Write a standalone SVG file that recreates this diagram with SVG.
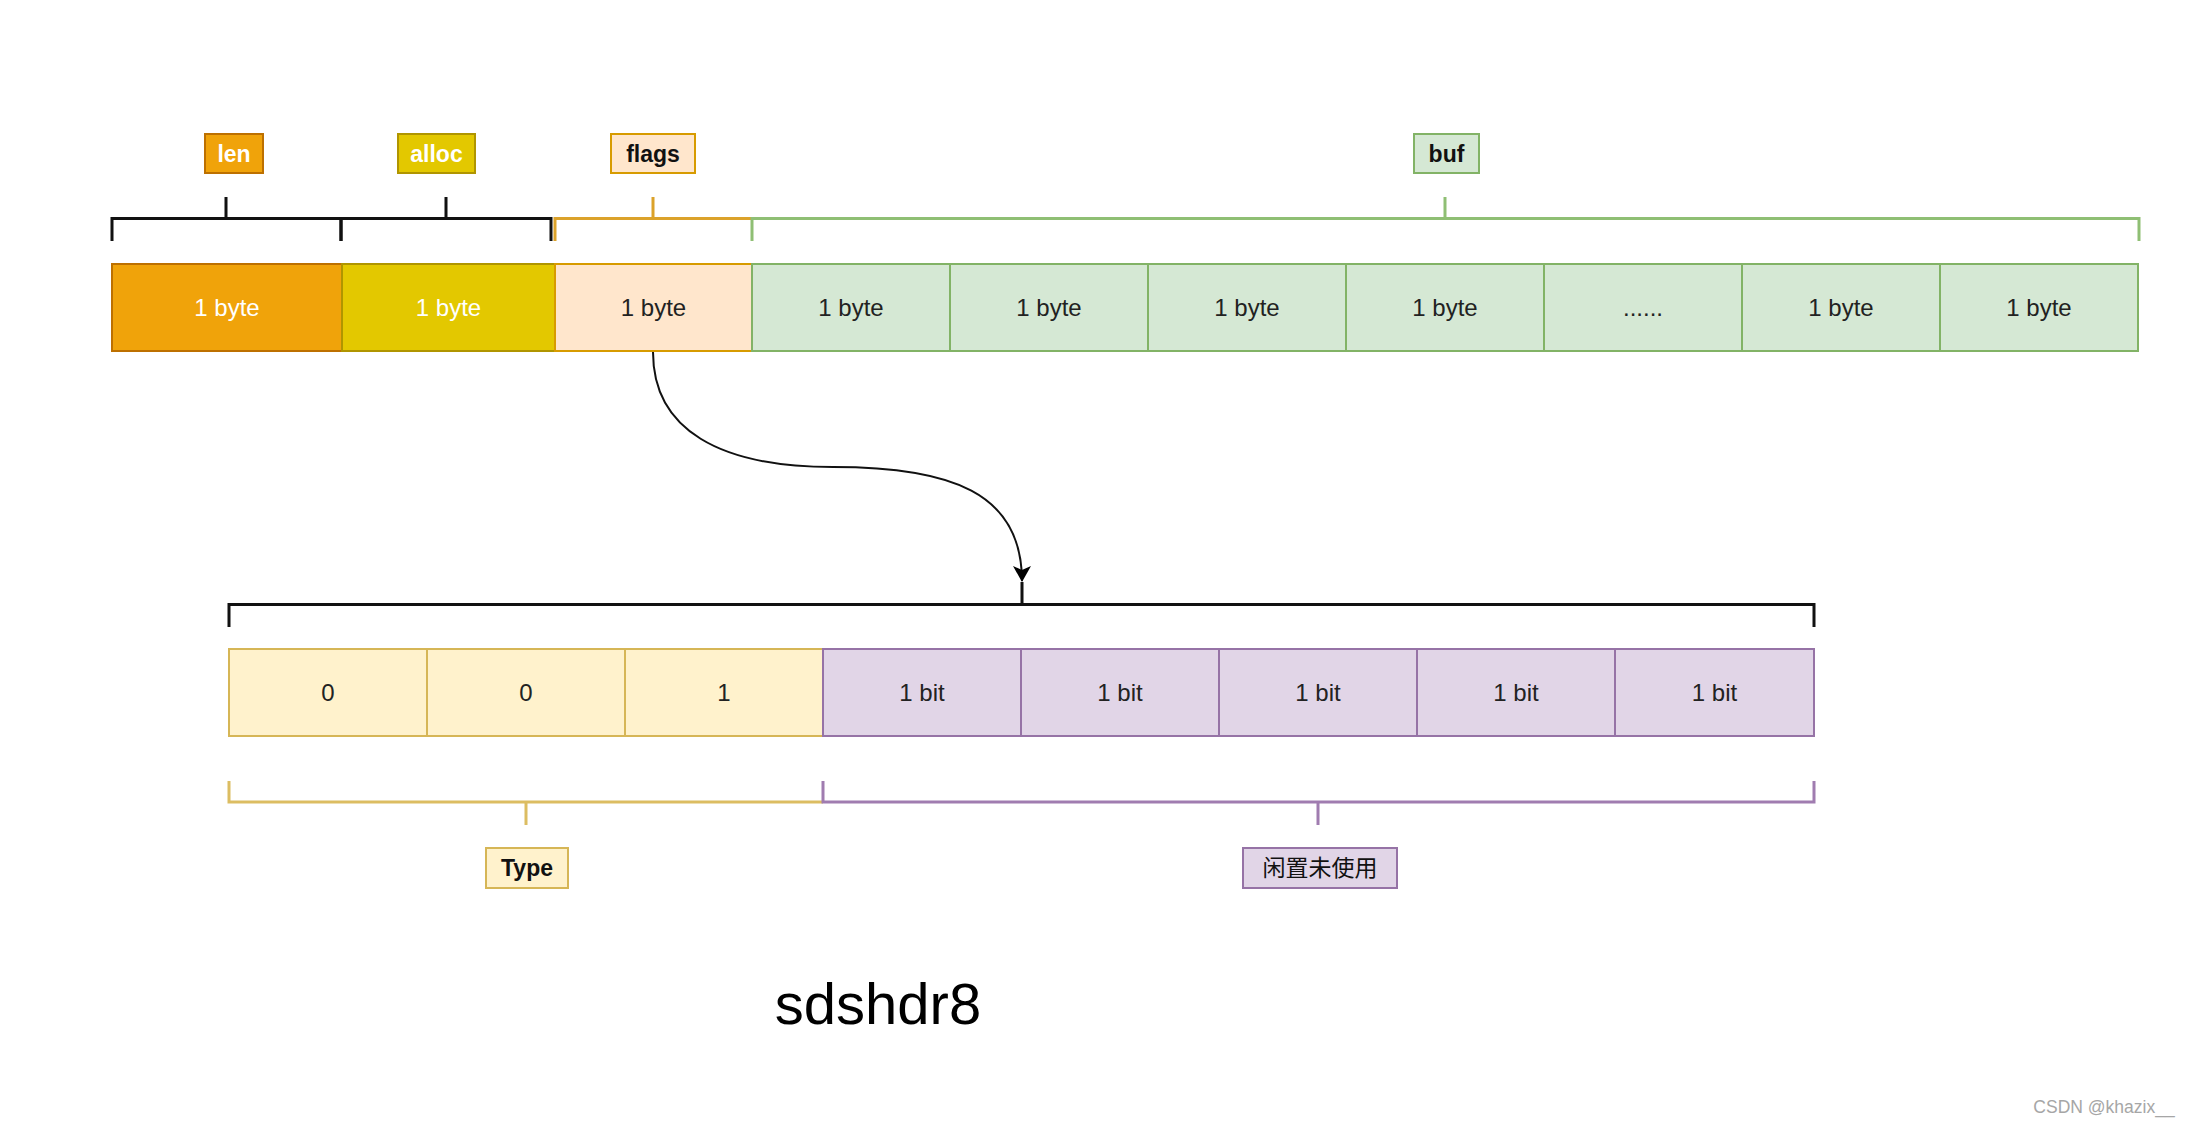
<svg xmlns="http://www.w3.org/2000/svg" width="2192" height="1131" viewBox="0 0 2192 1131">
<style>
text{font-family:"Liberation Sans",Arial,sans-serif;text-anchor:middle;dominant-baseline:central}
.cell{font-size:24px;fill:#222}
.wcell{font-size:24px;fill:#fff}
.lbl{font-size:23px;font-weight:bold;fill:#111}
.wlbl{font-size:23px;font-weight:bold;fill:#fff}
.len{fill:#f0a30a;stroke:#bd7000;stroke-width:2}
.alloc{fill:#e3c800;stroke:#b09500;stroke-width:2}
.flags{fill:#ffe6cc;stroke:#d79b00;stroke-width:2}
.buf{fill:#d5e8d4;stroke:#82b366;stroke-width:2}
.type{fill:#fff2cc;stroke:#d6b656;stroke-width:2}
.unused{fill:#e1d5e7;stroke:#9673a6;stroke-width:2}
.br{fill:none;stroke-width:3}
</style>
<defs>
<marker id="arr" viewBox="0 0 16 18" refX="15" refY="9" markerWidth="16" markerHeight="18" markerUnits="userSpaceOnUse" orient="auto">
<path d="M0,0 L16,9 L0,18 L4,9 Z" fill="#000"/>
</marker>
</defs>
<rect width="2192" height="1131" fill="#fff"/>

<!-- top labels -->
<g id="label-len"><rect x="205" y="134" width="58" height="39" class="len"/><text x="234" y="153.5" class="wlbl">len</text></g>
<g id="label-alloc"><rect x="398" y="134" width="77" height="39" class="alloc"/><text x="436.5" y="153.5" class="wlbl">alloc</text></g>
<g id="label-flags"><rect x="611" y="134" width="84" height="39" class="flags"/><text x="653" y="153.5" class="lbl">flags</text></g>
<g id="label-buf"><rect x="1414" y="134" width="65" height="39" class="buf"/><text x="1446.5" y="153.5" class="lbl">buf</text></g>

<!-- top brackets -->
<g id="bracket-len"><path class="br" stroke="#111" d="M112,241 V218.5 H341 V241 M226,197 V218.5"/></g>
<g id="bracket-alloc"><path class="br" stroke="#111" d="M341,241 V218.5 H551 V241 M446,197 V218.5"/></g>
<g id="bracket-flags"><path class="br" stroke="#dba22a" d="M555,241 V218.5 H752 M653,197 V218.5"/></g>
<g id="bracket-buf"><path class="br" stroke="#8fbf74" d="M752,241 V218.5 H2139 V241 M1445,197 V218.5"/></g>

<!-- byte row -->
<g id="byte-len"><rect x="112" y="264" width="230" height="87" class="len"/><text x="227" y="307.5" class="wcell">1 byte</text></g>
<g id="byte-alloc"><rect x="342" y="264" width="213" height="87" class="alloc"/><text x="448.5" y="307.5" class="wcell">1 byte</text></g>
<g id="byte-flags"><rect x="555" y="264" width="197" height="87" class="flags"/><text x="653.5" y="307.5" class="cell">1 byte</text></g>
<g id="buf-1"><rect x="752" y="264" width="198" height="87" class="buf"/><text x="851" y="307.5" class="cell">1 byte</text></g>
<g id="buf-2"><rect x="950" y="264" width="198" height="87" class="buf"/><text x="1049" y="307.5" class="cell">1 byte</text></g>
<g id="buf-3"><rect x="1148" y="264" width="198" height="87" class="buf"/><text x="1247" y="307.5" class="cell">1 byte</text></g>
<g id="buf-4"><rect x="1346" y="264" width="198" height="87" class="buf"/><text x="1445" y="307.5" class="cell">1 byte</text></g>
<g id="buf-5"><rect x="1544" y="264" width="198" height="87" class="buf"/><text x="1643" y="307.5" class="cell">......</text></g>
<g id="buf-6"><rect x="1742" y="264" width="198" height="87" class="buf"/><text x="1841" y="307.5" class="cell">1 byte</text></g>
<g id="buf-7"><rect x="1940" y="264" width="198" height="87" class="buf"/><text x="2039" y="307.5" class="cell">1 byte</text></g>

<!-- flags bits bracket -->
<g id="bracket-bits"><path class="br" stroke="#111" d="M229,627 V604.5 H1814 V627 M1022,582 V604.5"/></g>

<!-- bit row -->
<g id="bit-1"><rect x="229" y="649" width="198" height="87" class="type"/><text x="328" y="692.5" class="cell">0</text></g>
<g id="bit-2"><rect x="427" y="649" width="198" height="87" class="type"/><text x="526" y="692.5" class="cell">0</text></g>
<g id="bit-3"><rect x="625" y="649" width="198" height="87" class="type"/><text x="724" y="692.5" class="cell">1</text></g>
<g id="bit-4"><rect x="823" y="649" width="198" height="87" class="unused"/><text x="922" y="692.5" class="cell">1 bit</text></g>
<g id="bit-5"><rect x="1021" y="649" width="198" height="87" class="unused"/><text x="1120" y="692.5" class="cell">1 bit</text></g>
<g id="bit-6"><rect x="1219" y="649" width="198" height="87" class="unused"/><text x="1318" y="692.5" class="cell">1 bit</text></g>
<g id="bit-7"><rect x="1417" y="649" width="198" height="87" class="unused"/><text x="1516" y="692.5" class="cell">1 bit</text></g>
<g id="bit-8"><rect x="1615" y="649" width="199" height="87" class="unused"/><text x="1714.5" y="692.5" class="cell">1 bit</text></g>

<!-- bottom brackets -->
<g id="bracket-type"><path class="br" stroke="#dcbd62" d="M229,781 V802 H823 M526,802 V825"/></g>
<g id="bracket-unused"><path class="br" stroke="#a07cb0" d="M823,781 V802 H1814 V781 M1318,802 V825"/></g>

<g id="label-type"><rect x="486" y="848" width="82" height="40" class="type"/><text x="527" y="868" class="lbl">Type</text></g>
<g id="label-unused"><rect x="1243" y="848" width="154" height="40" class="unused"/><text x="1320" y="868" style="font-size:23px;fill:#111;font-family:'Liberation Sans','Noto Sans CJK SC',sans-serif">闲置未使用</text></g>

<g id="connectors">
<path d="M653,352 C653,430 720,467 833,467 C950,467 1022,492 1022,581" fill="none" stroke="#111" stroke-width="2" marker-end="url(#arr)"/>
</g>

<g id="title"><text x="878" y="1003" style="font-size:58px;fill:#000">sdshdr8</text></g>
<g id="watermark"><text x="2104" y="1107" style="font-size:17.5px;fill:#a6a6a6">CSDN @khazix__</text></g>
</svg>
